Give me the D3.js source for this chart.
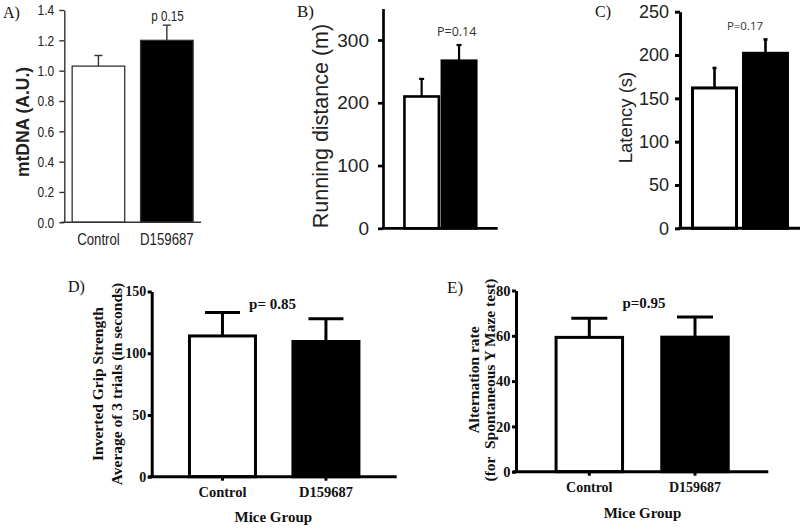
<!DOCTYPE html>
<html>
<head>
<meta charset="utf-8">
<script src="https://cdn.jsdelivr.net/npm/d3@7"></script>
<style>
  html, body { margin: 0; padding: 0; background: #fff; }
  svg { display: block; }
  text { white-space: pre; }
</style>
</head>
<body>
<svg id="chart" width="800" height="531"></svg>
<script>
// ---------------- DATA ----------------
const categories = ["Control", "D159687"];

const mtdnaMean = [1.03, 1.20];
const mtdnaErr  = [0.07, 0.10];
const mtdnaTicks = [0, 0.2, 0.4, 0.6, 0.8, 1.0, 1.2, 1.4];

const runMean = [210, 267];
const runErr  = [28, 25];
const runTicks = [0, 100, 200, 300];

const latencyMean = [162, 202];
const latencyErr  = [23, 16];
const latencyTicks = [0, 50, 100, 150, 200, 250];

const gripMean = [114, 109.5];
const gripErr  = [19, 18.5];
const gripTicks = [0, 50, 100, 150];

const altMean = [59.3, 59.4];
const altErr  = [8.4, 8.9];
const altTicks = [0, 20, 40, 60, 80];

const pLabels = ["p 0.15", "P=0.14", "P=0.17", "p= 0.85", "p=0.95"];
const panelLabels = ["A)", "B)", "C)", "D)", "E)"];
const yTitles = {
  A: ["mtDNA (A.U.)"],
  B: ["Running distance (m)"],
  C: ["Latency (s)"],
  D: ["Inverted Grip Strength", "Average of 3 trials (in seconds)"],
  E: ["Alternation rate", "(for  Spontaneous Y Maze test)"]
};
const xTitle = "Mice Group";
const barFills = ["#ffffff", "#000000"];

// ---------------- DRAW ----------------
const svg = d3.select("#chart");
svg.append("rect").attr("width", 800).attr("height", 531).attr("fill", "#fff");

const SANS = "'Liberation Sans', Arial, sans-serif";
const SERIF = "'Liberation Serif', 'Times New Roman', serif";

// horizontally condense text around its anchor x (emulates Arial Narrow)
function condense(sel, f) {
  if (!f || f === 1) return;
  sel.each(function () {
    const t = d3.select(this);
    const x = +(t.attr("x") || 0);
    const prev = t.attr("transform") || "";
    t.attr("transform", `${prev} translate(${x},0) scale(${f},1) translate(${-x},0)`);
  });
}

function panel(cfg) {
  const g = svg.append("g");
  const x = d3.scaleBand().domain(categories)
    .range(cfg.xRange).paddingInner(cfg.pi).paddingOuter(cfg.po);
  const y = d3.scaleLinear().domain(cfg.yDomain).range(cfg.yRange);

  // bars
  g.selectAll("rect.bar").data(categories).join("rect")
    .attr("class", "bar")
    .attr("x", d => x(d))
    .attr("width", x.bandwidth())
    .attr("y", (d, i) => y(cfg.mean[i]))
    .attr("height", (d, i) => y(0) - y(cfg.mean[i]))
    .attr("fill", (d, i) => barFills[i])
    .attr("stroke", cfg.color)
    .attr("stroke-width", cfg.barStroke);

  // error bars
  const eb = g.selectAll("g.err").data(categories).join("g").attr("class", "err")
    .attr("stroke", cfg.color).attr("stroke-width", cfg.errStroke);
  eb.append("line")
    .attr("x1", d => x(d) + x.bandwidth() / 2)
    .attr("x2", d => x(d) + x.bandwidth() / 2)
    .attr("y1", (d, i) => y(cfg.mean[i]))
    .attr("y2", (d, i) => y(cfg.mean[i] + cfg.err[i]));
  eb.append("line")
    .attr("x1", d => x(d) + x.bandwidth() / 2 - cfg.cap / 2)
    .attr("x2", d => x(d) + x.bandwidth() / 2 + cfg.cap / 2)
    .attr("y1", (d, i) => y(cfg.mean[i] + cfg.err[i]))
    .attr("y2", (d, i) => y(cfg.mean[i] + cfg.err[i]));

  // y axis
  const ya = g.append("g")
    .attr("transform", `translate(${cfg.xRange[0]},0)`)
    .call(d3.axisLeft(y).tickValues(cfg.ticks).tickFormat(cfg.fmt)
      .tickSize(cfg.tickSize).tickSizeOuter(0).tickPadding(cfg.tickPad));
  ya.selectAll("path, line").attr("stroke", cfg.color).attr("stroke-width", cfg.axisStroke);
  ya.selectAll("text").attr("font-family", cfg.tickFont).attr("font-size", cfg.tickFontSize)
    .attr("font-weight", cfg.tickWeight).attr("fill", cfg.textColor);
  condense(ya.selectAll("text"), cfg.narrow);

  // x axis
  const xa = g.append("g")
    .attr("transform", `translate(0,${y(0)})`)
    .call(d3.axisBottom(x).tickSize(cfg.catTicks ? cfg.tickSize : 0).tickSizeOuter(0)
      .tickPadding(cfg.catPad).tickFormat(cfg.catLabels ? (d => d) : () => ""));
  xa.selectAll("path, line").attr("stroke", cfg.color).attr("stroke-width", cfg.axisStroke);
  xa.select("path.domain").attr("d", `M${cfg.xRange[0] - cfg.xExt},0H${cfg.xRange[1]}`);
  xa.selectAll("text").attr("font-family", cfg.catFont).attr("font-size", cfg.catFontSize)
    .attr("font-weight", cfg.tickWeight).attr("fill", cfg.textColor);
  condense(xa.selectAll("text"), cfg.narrow);

  // y title
  cfg.yTitle.forEach((t, i) => {
    g.append("text")
      .attr("transform", `translate(${cfg.yTitleX[i]},${cfg.yTitleY}) rotate(-90)`)
      .attr("text-anchor", "middle")
      .attr("dominant-baseline", "central")
      .attr("font-family", cfg.titleFont).attr("font-size", cfg.titleSize)
      .attr("font-weight", cfg.titleWeight).attr("fill", cfg.textColor)
      .text(t);
  });

  // p-value
  const pt = g.append("text").attr("x", cfg.pPos[0]).attr("y", cfg.pPos[1])
    .attr("text-anchor", "middle")
    .attr("font-family", cfg.pFont).attr("font-size", cfg.pSize)
    .attr("font-weight", cfg.pWeight).attr("fill", cfg.pColor || cfg.textColor)
    .text(cfg.p);
  condense(pt, cfg.narrow);

  // panel letter
  g.append("text").attr("x", cfg.letterPos[0]).attr("y", cfg.letterPos[1])
    .attr("font-family", SERIF).attr("font-size", cfg.letterSize).attr("fill", "#111")
    .text(cfg.letter);

  // x title
  if (cfg.xTitlePos) {
    g.append("text").attr("x", cfg.xTitlePos[0]).attr("y", cfg.xTitlePos[1])
      .attr("text-anchor", "middle")
      .attr("font-family", SERIF).attr("font-size", 15).attr("font-weight", "bold")
      .attr("fill", "#111").text(xTitle);
  }
}

// Panel A
panel({
  xRange: [64.3, 201], pi: 0.232, po: 0.115,
  yDomain: [0, 1.4], yRange: [222.3, 10],
  mean: mtdnaMean, err: mtdnaErr, ticks: mtdnaTicks, fmt: d3.format(".1f"),
  color: "#333", textColor: "#222", barStroke: 1.3, errStroke: 1.4, cap: 8, axisStroke: 1.4,
  tickSize: 5, tickPad: 5, tickFont: SANS, tickFontSize: 15, tickWeight: "normal",
  catTicks: false, catLabels: true, catPad: 11, catFont: SANS, catFontSize: 16.5, xExt: 3,
  narrow: 0.8,
  yTitle: yTitles.A, yTitleX: [23], yTitleY: 122, titleFont: SANS, titleSize: 17.5, titleWeight: "bold",
  p: pLabels[0], pPos: [167.5, 20.7], pFont: SANS, pSize: 14.5, pWeight: "normal",
  letter: panelLabels[0], letterPos: [3, 18], letterSize: 16
});

// Panel B
panel({
  xRange: [383, 497.7], pi: 0.08, po: 0.573,
  yDomain: [0, 350], yRange: [228.3, 8.6],
  mean: runMean, err: runErr, ticks: runTicks, fmt: d3.format("d"),
  color: "#000", textColor: "#222", barStroke: 2.6, errStroke: 2.2, cap: 5, axisStroke: 2.7,
  tickSize: 5, tickPad: 9, tickFont: SANS, tickFontSize: 19, tickWeight: "normal",
  catTicks: false, catLabels: false, catPad: 0, catFont: SANS, catFontSize: 1, xExt: 1.3,
  yTitle: yTitles.B, yTitleX: [321], yTitleY: 126, titleFont: SANS, titleSize: 21.5, titleWeight: "normal",
  p: pLabels[1], pPos: [456.7, 35.5], pFont: "'Open Sans', sans-serif", pSize: 12.5, pWeight: "normal", pColor: "#333",
  letter: panelLabels[1], letterPos: [297, 17], letterSize: 17
});

// Panel C
panel({
  xRange: [680, 800], pi: 0.137, po: 0.245,
  yDomain: [0, 250], yRange: [228.3, 11.7],
  mean: latencyMean, err: latencyErr, ticks: latencyTicks, fmt: d3.format("d"),
  color: "#000", textColor: "#222", barStroke: 3, errStroke: 2.6, cap: 4, axisStroke: 3,
  tickSize: 5, tickPad: 6, tickFont: SANS, tickFontSize: 18, tickWeight: "normal",
  catTicks: false, catLabels: false, catPad: 0, catFont: SANS, catFontSize: 1, xExt: 2,
  yTitle: yTitles.C, yTitleX: [625], yTitleY: 117.5, titleFont: SANS, titleSize: 18.5, titleWeight: "normal",
  p: pLabels[2], pPos: [745, 30], pFont: "'Open Sans', sans-serif", pSize: 11.5, pWeight: "normal", pColor: "#333",
  letter: panelLabels[2], letterPos: [595, 17], letterSize: 16
});

// Panel D
panel({
  xRange: [151.7, 396.7], pi: 0.362, po: 0.365,
  yDomain: [0, 150], yRange: [476.7, 291.5],
  mean: gripMean, err: gripErr, ticks: gripTicks, fmt: d3.format("d"),
  color: "#000", textColor: "#111", barStroke: 3, errStroke: 3, cap: 35, axisStroke: 3,
  tickSize: 4, tickPad: 1.5, tickFont: SERIF, tickFontSize: 14, tickWeight: "bold",
  catTicks: true, catLabels: true, catPad: 6, catFont: SERIF, catFontSize: 14.5, xExt: 3.4,
  yTitle: yTitles.D, yTitleX: [97.5, 116.7], yTitleY: 384, titleFont: SERIF, titleSize: 15.5, titleWeight: "bold",
  p: pLabels[3], pPos: [272.5, 309], pFont: SERIF, pSize: 15, pWeight: "bold",
  letter: panelLabels[3], letterPos: [68, 292], letterSize: 16,
  xTitlePos: [273.3, 522]
});

// Panel E
panel({
  xRange: [516, 768.3], pi: 0.371, po: 0.379,
  yDomain: [0, 80], yRange: [471.7, 290.5],
  mean: altMean, err: altErr, ticks: altTicks, fmt: d3.format("d"),
  color: "#000", textColor: "#111", barStroke: 3, errStroke: 3, cap: 36, axisStroke: 3,
  tickSize: 4, tickPad: 1.5, tickFont: SERIF, tickFontSize: 14.5, tickWeight: "bold",
  catTicks: true, catLabels: true, catPad: 6, catFont: SERIF, catFontSize: 14, xExt: 3,
  yTitle: yTitles.E, yTitleX: [473.3, 489], yTitleY: 380, titleFont: SERIF, titleSize: 15.5, titleWeight: "bold",
  p: pLabels[4], pPos: [644, 307.7], pFont: SERIF, pSize: 15, pWeight: "bold",
  letter: panelLabels[4], letterPos: [447, 293], letterSize: 17,
  xTitlePos: [642.5, 518]
});
</script>
</body>
</html>
